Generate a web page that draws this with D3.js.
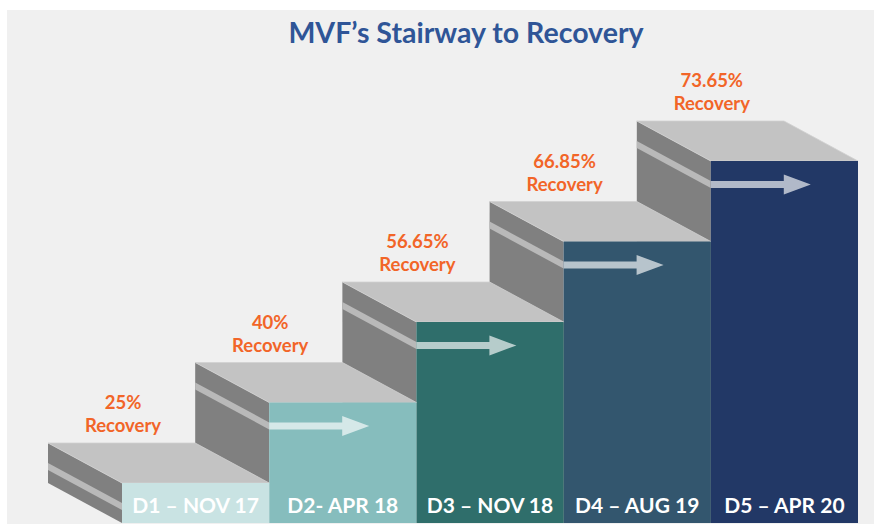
<!DOCTYPE html>
<html>
<head>
<meta charset="utf-8">
<script src="https://cdn.jsdelivr.net/npm/d3@7"></script>
<style>
  body { margin: 0; background: #fff; }
  text { font-family: Lato, "Open Sans", sans-serif; font-weight: bold; }
</style>
</head>
<body>
<div id="chart"></div>
<script>
var steps = ["D1 – NOV 17", "D2- APR 18", "D3 – NOV 18", "D4 – AUG 19", "D5 – APR 20"];
var recovery = [25, 40, 56.65, 66.85, 73.65];
var fronts = ["#c9e3e3", "#86bdbd", "#2f6e6b", "#33566e", "#223866"];

var width = 874,
    height = 529,
    bottom = 523,
    depthX = 74,
    depthY = 40;

var svg = d3.select("#chart")
    .append("svg")
    .attr("width", width)
    .attr("height", height);

// grey panel behind everything
svg.append("rect")
    .attr("x", 7).attr("y", 10)
    .attr("width", width - 7).attr("height", 514)
    .attr("fill", "#f0f0f0");

svg.append("text")
    .attr("x", 466).attr("y", 43)
    .attr("text-anchor", "middle")
    .attr("fill", "#2f5597")
    .style("font-size", "28.5px")
    .text("MVF’s Stairway to Recovery");

var x = d3.scaleBand()
    .domain(steps)
    .range([122, 858])
    .padding(0);

// every step rises by the same amount
var y = d3.scaleLinear()
    .domain([0, steps.length - 1])
    .range([483, 161]);

var data = steps.map(function (s, i) {
    return { name: s, value: recovery[i], color: fronts[i], i: i };
});

var line = d3.line();

// draw the highest step first so lower ones sit in front of it
var g = svg.selectAll("g.step")
    .data(data.slice().reverse())
    .enter().append("g")
    .attr("class", "step");

g.each(function (d) {
    var el = d3.select(this);
    var fx = x(d.name),
        fw = x.bandwidth(),
        ft = y(d.i),
        bx = fx - depthX,
        bt = ft - depthY;

    // left side
    el.append("path")
        .attr("d", line([[bx, bt], [fx, ft], [fx, bottom], [bx, bottom - depthY]]) + "Z")
        .attr("fill", "#808080");
    // light band on side
    el.append("path")
        .attr("d", line([[bx, bt + 20], [fx, ft + 20], [fx, ft + 27], [bx, bt + 27]]) + "Z")
        .attr("fill", "#b9b9b9");
    // top
    el.append("path")
        .attr("d", line([[bx, bt], [bx + fw, bt], [fx + fw, ft], [fx, ft]]) + "Z")
        .attr("fill", "#c3c3c3")
        .attr("stroke", "#d0d0d0")
        .attr("stroke-width", 0.8);
    // front
    el.append("rect")
        .attr("x", fx).attr("y", ft)
        .attr("width", fw).attr("height", bottom - ft)
        .attr("fill", d.color);

    if (d.i > 0) {
        var cy = ft + 23.5;
        el.append("path")
            .attr("d", line([[fx, cy - 3.5], [fx + 73, cy - 3.5], [fx + 73, cy - 10],
                [fx + 100, cy], [fx + 73, cy + 10], [fx + 73, cy + 3.5], [fx, cy + 3.5]]) + "Z")
            .attr("fill", "#fff")
            .attr("opacity", 0.65);
    }

    el.append("text")
        .attr("x", fx + fw / 2).attr("y", 513)
        .attr("text-anchor", "middle")
        .attr("fill", "#fff")
        .style("font-size", "21px")
        .text(d.name);

    var lab = el.append("text")
        .attr("text-anchor", "middle")
        .attr("fill", "#f26528")
        .style("font-size", "18.5px");
    lab.append("tspan")
        .attr("x", fx + 1).attr("y", bt - 34)
        .text(d.value + "%");
    lab.append("tspan")
        .attr("x", fx + 1).attr("y", bt - 11)
        .text("Recovery");
});
</script>
</body>
</html>
